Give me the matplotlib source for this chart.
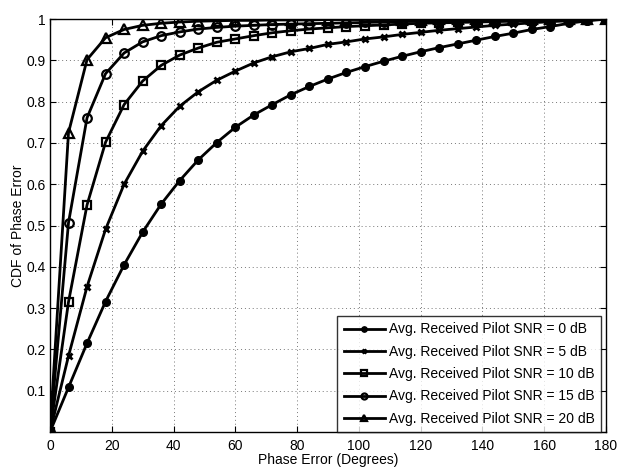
import matplotlib
matplotlib.use("Agg")
import matplotlib.pyplot as plt
import numpy as np

phase_deg = list(range(0, 181, 6))

cdf_snr0 = [0, 0.108, 0.215, 0.316, 0.405, 0.484, 0.552, 0.609, 0.659, 0.701, 0.738,
            0.768, 0.793, 0.817, 0.837, 0.855, 0.871, 0.885, 0.898, 0.910, 0.921,
            0.931, 0.940, 0.949, 0.958, 0.966, 0.975, 0.982, 0.990, 0.996, 1.0]
cdf_snr5 = [0, 0.184, 0.352, 0.491, 0.600, 0.680, 0.742, 0.789, 0.824, 0.852, 0.874,
            0.894, 0.909, 0.921, 0.929, 0.939, 0.945, 0.952, 0.957, 0.963, 0.968,
            0.973, 0.977, 0.981, 0.985, 0.988, 0.991, 0.994, 0.996, 0.998, 1.0]
cdf_snr10 = [0, 0.315, 0.550, 0.702, 0.793, 0.850, 0.888, 0.913, 0.930, 0.944, 0.952,
             0.960, 0.967, 0.972, 0.976, 0.979, 0.982, 0.984, 0.986, 0.988, 0.990,
             0.991, 0.992, 0.993, 0.994, 0.995, 0.996, 0.997, 0.998, 0.999, 1.0]
cdf_snr15 = [0, 0.507, 0.761, 0.868, 0.918, 0.945, 0.960, 0.969, 0.976, 0.980, 0.983,
             0.985, 0.987, 0.988, 0.989, 0.990, 0.991, 0.992, 0.993, 0.994, 0.995,
             0.995, 0.996, 0.996, 0.997, 0.997, 0.998, 0.998, 0.999, 0.999, 1.0]
cdf_snr20 = [0, 0.725, 0.902, 0.955, 0.975, 0.985, 0.990, 0.993, 0.995, 0.996, 0.997,
             0.997, 0.998, 0.998, 0.998, 0.999, 0.999, 0.999, 0.999, 0.999, 0.999,
             1.0, 1.0, 1.0, 1.0, 1.0, 1.0, 1.0, 1.0, 1.0, 1.0]

labels = ["Avg. Received Pilot SNR = 0 dB",
          "Avg. Received Pilot SNR = 5 dB",
          "Avg. Received Pilot SNR = 10 dB",
          "Avg. Received Pilot SNR = 15 dB",
          "Avg. Received Pilot SNR = 20 dB"]
xticks = list(range(0, 181, 20))
yticks = [0, 0.1, 0.2, 0.3, 0.4, 0.5, 0.6, 0.7, 0.8, 0.9, 1.0]
yticklabels = ["", "0.1", "0.2", "0.3", "0.4", "0.5", "0.6", "0.7", "0.8", "0.9", "1"]

plt.rcParams['font.family'] = ['Liberation Sans', 'DejaVu Sans']
fig = plt.figure(figsize=(6.17, 4.67), dpi=100)
ax = fig.add_axes([0.081, 0.075, 0.901, 0.884])

series = [cdf_snr0, cdf_snr5, cdf_snr10, cdf_snr15, cdf_snr20]
styles = [dict(marker='o', ms=5.5, mfc='black'),
          dict(marker='x', ms=5, mew=2),
          dict(marker='s', ms=5.5, mfc='none', mew=1.6),
          dict(marker='o', ms=6.2, mfc='none', mew=1.6),
          dict(marker='^', ms=7, mfc='none', mew=1.6)]
for y, lab, st in zip(series, labels, styles):
    ax.plot(phase_deg, y, color='black', lw=2, label=lab, **st)

ax.set_xlim(0, 180)
ax.set_ylim(0, 1)
ax.set_xticks(xticks)
ax.set_yticks(yticks)
ax.set_yticklabels(yticklabels)
ax.tick_params(direction='in', top=True, right=True, labelsize=10, length=4, width=0.8)
ax.tick_params(axis='x', pad=5)
ax.tick_params(axis='y', pad=3)
ax.grid(True, linestyle=(0, (1, 3)), color='#777777', linewidth=0.7)
for s in ax.spines.values():
    s.set_linewidth(1.0)
ax.set_xlabel("Phase Error (Degrees)", fontsize=10, labelpad=0)
ax.set_ylabel("CDF of Phase Error", fontsize=10, labelpad=1)

leg = ax.legend(loc='lower right', bbox_to_anchor=(0.991, 0.0), fontsize=10, frameon=True,
                fancybox=False, edgecolor='black', borderaxespad=0, markerscale=0.7,
                handlelength=3.0, handletextpad=0.25, labelspacing=0.6, borderpad=0.45)
leg.get_frame().set_linewidth(1.0)

fig.savefig("out.png", dpi=100)
